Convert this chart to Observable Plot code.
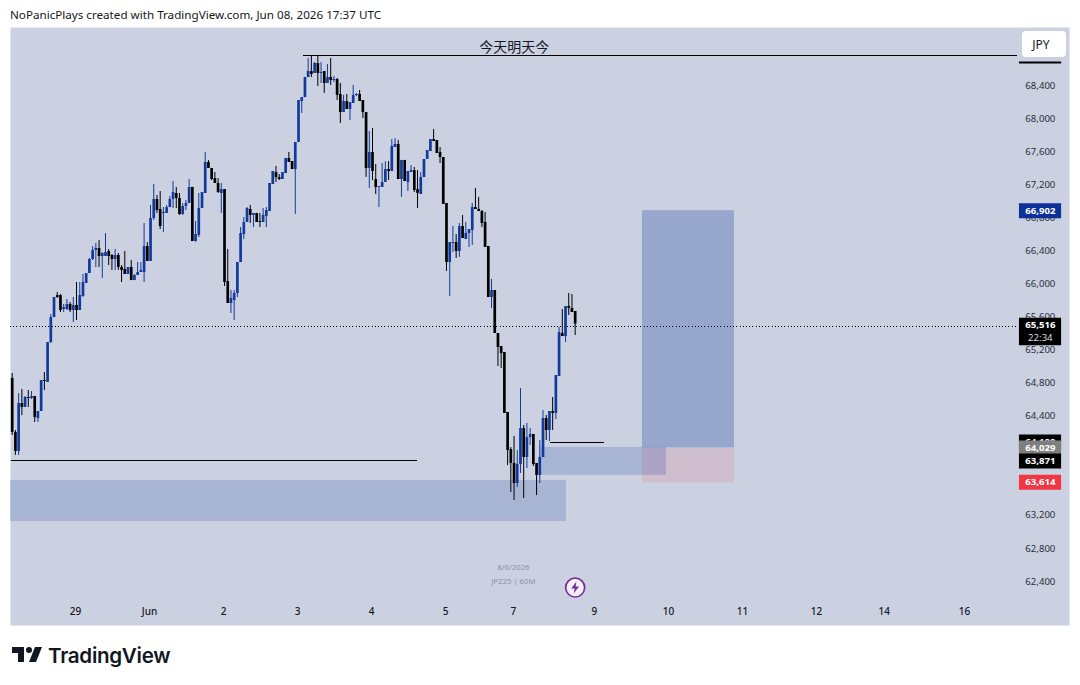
<!DOCTYPE html>
<html><head><meta charset="utf-8">
<script src="https://cdn.jsdelivr.net/npm/d3@7"></script>
<script src="https://cdn.jsdelivr.net/npm/@observablehq/plot@0.6"></script>
<style>
html,body{margin:0;padding:0;background:#fff;width:1080px;height:685px;overflow:hidden}
#hdr{height:27px;padding-left:10px;font:11.65px/29px "Noto Sans",sans-serif;color:#131722;box-sizing:border-box}
#chart{height:598px}
#chart svg{display:block}
#ftr{position:absolute;left:10px;top:641px;display:flex;align-items:center;height:28px}
#ftr span{font:600 20.6px "Inter",sans-serif;color:#131722;margin-left:2px;letter-spacing:-.3px}
#jpy{position:absolute;left:1022px;top:31px;width:44px;height:26px;background:#fff;border-radius:4px;font:12px/27px "Noto Sans",sans-serif;text-align:center;color:#131722;box-sizing:border-box;padding-right:6px}
</style></head><body>
<div id="hdr">NoPanicPlays created with TradingView.com, Jun 08, 2026 17:37 UTC</div>
<div id="chart"></div>
<div id="jpy">JPY</div>
<div id="ftr"><svg width="36" height="28" viewBox="0 0 36 28"><path fill="#131722" d="M14 6H2v6h6v9h6V6Zm12 15h-7l6-15h7l-6 15Zm-7-9a3 3 0 1 0 0-6 3 3 0 0 0 0 6Z"/></svg><span>TradingView</span></div>
<script>
// JP225 60-minute candles
const open=[64858,64205,63974,64555,64507,64628,64616,64640,64373,64458,64834,64810,65293,65596,65863,65863,65693,65693,65754,65681,65742,65681,65851,66008,66129,66299,66408,66432,66335,66335,66396,66347,66299,66347,66202,66178,66117,66202,66044,66105,66141,66141,66456,66275,66795,67025,66904,66856,66856,66928,67025,67098,67037,66844,66941,66977,67171,66517,66590,66916,67098,67473,67401,67279,67219,67098,67146,66032,65766,65802,65887,66262,66601,66747,66904,66832,66856,66759,66747,66820,66880,67207,67352,67291,67267,67340,67522,67485,67388,67716,68212,68260,68503,68575,68551,68672,68551,68575,68430,68503,68466,68478,68297,68079,68212,68115,68188,68285,68297,68224,68079,67401,67594,67267,67171,67171,67231,67388,67364,67655,67691,67267,67498,67231,67352,67376,67146,67086,67291,67510,67607,67752,67740,67594,67534,66977,66262,66492,66505,66396,66698,66541,66614,66650,66928,66904,66880,66747,66456,65839,65923,65403,65245,65173,64446,63998,63829,63586,63817,64252,63901,64143,64180,63829,63683,63901,64373,64228,64458,64434,64882,65403,65366,65730,65705,65669];
const high=[64918,64228,64676,64724,64640,64712,64700,64640,64458,64834,64931,65293,65633,65839,65899,65875,65754,65814,65778,65839,66020,66020,66117,66129,66311,66456,66492,66529,66383,66613,66420,66359,66420,66371,66226,66396,66202,66287,66117,66262,66262,66735,66504,66953,67207,67074,67122,66928,66953,67062,67243,67171,67098,66977,67013,67267,67171,66759,67098,67110,67594,67498,67401,67352,67279,67219,67146,66420,65923,65923,66262,66686,66807,66928,66953,66856,66856,66856,66916,66928,67219,67364,67425,67328,67352,67522,67594,67485,67716,68224,68260,68503,68733,68757,68684,68757,68684,68575,68660,68733,68515,68490,68430,68285,68297,68200,68406,68309,68345,68224,68079,67849,67885,67449,67183,67461,67485,67485,67752,67764,67740,67498,67498,67364,67437,67413,67376,67352,67510,67619,67752,67873,67740,67655,67534,66977,66505,66699,66601,66735,66832,66747,66662,66977,67159,67050,66892,66868,66456,66057,65923,65403,65245,65173,64446,64022,64156,63986,64737,64289,64313,64252,64180,63829,64107,64470,64410,64458,64627,64894,65475,65693,65730,65887,65875,65669];
const low=[64168,63926,63926,64409,64507,64507,64604,64325,64325,64458,64712,64810,65281,65596,65827,65657,65657,65681,65657,65536,65560,65681,65839,66008,66129,66287,66202,66202,66069,66335,66226,66166,66166,66166,66020,66117,66117,66044,66044,66105,66141,66020,66275,66275,66771,66856,66662,66626,66856,66928,66916,66916,66832,66832,66892,66977,66517,66505,66565,66916,67098,67401,67255,67219,67098,66856,65972,65766,65645,65560,65839,66262,66541,66747,66735,66686,66747,66686,66747,66686,66880,67207,67231,67255,67267,67340,67473,67388,66844,67716,68067,68260,68503,68503,68551,68394,68430,68309,68430,68406,68442,68224,67946,68079,68115,67982,68188,68273,68212,68006,67292,67159,67255,67086,66928,67171,67231,67255,67364,67655,67267,67050,67243,67122,67352,67110,66916,67086,67291,67510,67607,67728,67582,67461,66965,66154,65851,66384,66311,66323,66553,66541,66444,66468,66904,66880,66686,66444,65839,65705,65403,65003,64979,64434,63804,63477,63381,63538,63708,63405,63768,64046,63792,63441,63586,63901,64107,64095,64228,64361,64882,65366,65294,65621,65657,65379];
const close=[64205,63974,64555,64507,64628,64616,64640,64385,64458,64834,64822,65293,65596,65839,65839,65681,65717,65754,65681,65742,65681,65863,66020,66129,66299,66408,66432,66335,66371,66383,66335,66299,66347,66202,66166,66117,66202,66044,66105,66141,66166,66456,66275,66795,67025,66892,66698,66868,66928,67025,67110,67037,66844,66941,66977,67171,66517,66601,66916,67110,67473,67401,67267,67219,67110,67146,66020,65766,65826,65887,66262,66614,66747,66916,66832,66856,66747,66747,66832,66892,67219,67364,67291,67267,67352,67522,67473,67388,67716,68224,68260,68503,68575,68539,68672,68551,68563,68430,68503,68466,68478,68285,68079,68212,68115,68200,68285,68297,68212,68079,67401,67594,67364,67171,67183,67231,67388,67364,67667,67691,67267,67498,67243,67364,67376,67134,67098,67291,67510,67619,67752,67728,67582,67534,66965,66262,66505,66505,66396,66698,66553,66614,66662,66928,66904,66880,66735,66444,65839,65923,65403,65233,65160,64434,63986,63829,63586,63817,64252,63901,64143,64180,63817,63683,63901,64373,64228,64458,64434,64894,65415,65366,65730,65705,65657,65516];
const priceTicks=[62400,62800,63200,63600,64000,64400,64800,65200,65600,66000,66400,66800,67200,67600,68000,68400];
const dayLabels=["29","Jun","2","3","4","5","7","9","10","11","12","14","16"];
const dayBars=[19.7,42.7,65.7,88.7,111.7,134.7,155.8,181,204,227,250,271.1,296];
const tagPrices=[66902,64100,64029,63871,63614,65516];
const tagTexts=["66,902","64,100","64,029","63,871","63,614","65,516"];
const tagFills=["#0c3299","#000000","#7f7f7f","#000000","#f23645","#000000"];
const lastPrice=65516, countdown="22:34";
const topLevel=68770, supportLevel=63871, shortLevel=64100;
const zone1=[63623,63126], zone2=[64023,63685];
const target=66902, entry=64029, stop=63614;
const note="今天明天今";
const stamp=["8/6/2026","JP225 | 60M"], stampPrices=[62570,62400];

const UP="#123a9c", DOWN="#000000", INK="#2a2e39";
const step=3.217;
const bars=open.map((o,i)=>({i,open:o,high:high[i],low:low[i],close:close[i],color:close[i]>=o?UP:DOWN}));
const tags=tagPrices.map((p,i)=>({p,t:tagTexts[i],c:tagFills[i]}));
const font='"Noto Sans",sans-serif';
const tagL=313.1,tagR=326.2,tagC=319.6;
const bolt={draw(ctx,size){const r=Math.sqrt(size/Math.PI);
  const pts=[[.2,-1],[-.65,.18],[-.08,.18],[-.25,1],[.65,-.18],[.08,-.18]];
  pts.forEach(([a,b],k)=>k?ctx.lineTo(a*r,b*r):ctx.moveTo(a*r,b*r));ctx.closePath();}};

const plot=Plot.plot({
  width:1080,height:598,marginLeft:10,marginRight:11,marginTop:0,marginBottom:0,
  style:{background:"transparent",fontFamily:font,overflow:"visible"},
  x:{axis:null,domain:[-1.7/step,1057.3/step]},
  y:{axis:null,domain:[61867,69108]},
  color:{type:"identity"},
  marks:[
    Plot.frame({fill:"#cbd1e1",stroke:"none"}),
    // zones
    Plot.rect([zone1],{x1:-0.53,x2:172.3,y1:d=>d[0],y2:d=>d[1],fill:"#0c3299",fillOpacity:.18}),
    Plot.rect([[entry,target]],{x1:195.9,x2:224.5,y1:d=>d[0],y2:d=>d[1],dy:1,fill:"#0c3299",fillOpacity:.27}),
    Plot.rect([[entry,stop]],{x1:195.9,x2:224.5,y1:d=>d[0],y2:d=>d[1],dy:1.5,fill:"#f23645",fillOpacity:.12}),
    Plot.rect([zone2],{x1:164.2,x2:203.4,y1:d=>d[0],y2:d=>d[1],fill:"#0c3299",fillOpacity:.18}),
    // levels
    Plot.ruleY([lastPrice],{x1:-0.53,x2:312.5,dy:2,stroke:"#000",strokeDasharray:"1,2.2",strokeWidth:1,shapeRendering:"crispEdges"}),
    Plot.ruleY([topLevel],{x1:90.5,x2:312.5,stroke:"#000",strokeWidth:1,shapeRendering:"crispEdges"}),
    Plot.ruleY([supportLevel],{x1:-0.2,x2:126,dy:1,stroke:"#000",strokeWidth:1,shapeRendering:"crispEdges"}),
    Plot.ruleY([shortLevel],{x1:167.3,x2:184.1,dy:1,stroke:"#000",strokeWidth:1,shapeRendering:"crispEdges"}),
    Plot.text([note],{x:156.1,y:68866,text:d=>d,fontSize:14,fontFamily:'"Noto Sans CJK SC"',fill:"#131722"}),
    // candles
    Plot.ruleX(bars,{x:"i",y1:"low",y2:"high",stroke:"color",strokeWidth:1}),
    Plot.ruleX(bars,{x:"i",y1:"open",y2:"close",stroke:"color",strokeWidth:2.7}),
    // axes
    Plot.text(priceTicks,{x:tagC,y:d=>d,text:d=>d3.format(",")(d),fontSize:9.6,fill:INK}),
    Plot.text(dayLabels,{x:(d,i)=>dayBars[i],text:d=>d,frameAnchor:"bottom",dy:-11,fontSize:10,fontWeight:500,fill:"#131722"}),
    // price tags, drawn one over the other in the reference's stacking order
    ...tags.flatMap(d=>[
      Plot.ruleY([d.p],{x1:tagL,x2:tagR,dy:1,stroke:d.c,strokeWidth:15}),
      Plot.text([d.t],{x:tagC,y:d.p,dy:1,text:t=>t,fontSize:9.6,fontWeight:700,fill:"#fff"})
    ]),
    Plot.ruleY([lastPrice],{x1:tagL,x2:tagR,dy:14,stroke:"#000",strokeWidth:14}),
    Plot.ruleY([68685],{x1:tagL,x2:tagR,stroke:"#000",strokeWidth:2}),
    Plot.text([countdown],{x:tagC,y:lastPrice,dy:14,text:d=>d,fontSize:9.6,fill:"#ddd"}),
    // watermark
    Plot.text(stamp,{x:155.8,y:(d,i)=>stampPrices[i],text:d=>d,fontSize:7.7,fill:"#8b92a8"}),
    Plot.dot([62327],{x:175,y:d=>d,r:9.5,fill:"#f2eff6",stroke:"#7b2a9c",strokeWidth:1.7}),
    Plot.dot([62327],{x:175,y:d=>d,r:6,symbol:bolt,fill:"#7b2a9c"})
  ]
});
document.getElementById("chart").append(plot);
</script>
</body></html>
